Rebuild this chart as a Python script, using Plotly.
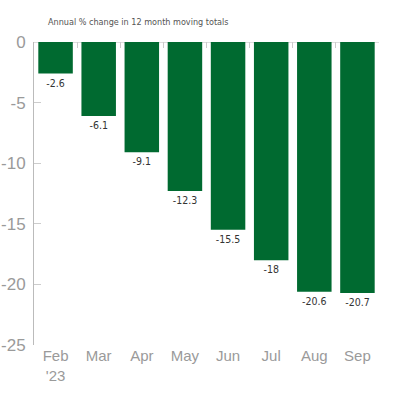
import plotly.graph_objects as go

# Data
months = ["Feb<br>'23", "Mar", "Apr", "May", "Jun", "Jul", "Aug", "Sep"]
values = [-2.6, -6.1, -9.1, -12.3, -15.5, -18, -20.6, -20.7]
y_ticks = [0, -5, -10, -15, -20, -25]

bar_green = "#006a30"
grey = "#9a9a9a"
narrow = "DejaVu Sans Condensed, Liberation Sans Narrow, sans-serif"

W = H = 400

fig = go.Figure()

fig.add_trace(go.Bar(
    x=list(range(len(months))),
    y=values,
    marker=dict(color=bar_green, line=dict(width=0)),
    text=[f"{v:g}" for v in values],
    textposition="outside",
    textfont=dict(family=narrow, size=10.5, color="#333333"),
    cliponaxis=False,
    showlegend=False,
))

# small tick marks between the bars along the zero line
fig.add_trace(go.Scatter(x=[0], y=[0], xaxis="x2", mode="markers",
                         marker=dict(opacity=0), showlegend=False, hoverinfo="skip"))

fig.update_layout(
    width=W, height=H,
    margin=dict(l=34, r=21, t=42, b=55),
    plot_bgcolor="white", paper_bgcolor="white",
    bargap=0.2,
    title=dict(text="Annual % change in 12 month moving totals",
               x=48 / W, xanchor="left", y=1 - 22 / H, yanchor="middle",
               font=dict(family=narrow, size=9, color="#555555")),
    xaxis=dict(
        tickmode="array", tickvals=list(range(len(months))), ticktext=months,
        range=[-0.5, len(months) - 0.5],
        showline=False, showgrid=False, zeroline=False, ticks="",
        automargin=False,
        tickfont=dict(family="Liberation Sans, Arial, sans-serif", size=15, color=grey),
    ),
    xaxis2=dict(
        overlaying="x", side="top", anchor="y",
        range=[-0.5, len(months) - 0.5],
        tickmode="array", tickvals=[i + 0.5 for i in range(len(months) - 1)],
        showticklabels=False, ticks="inside", ticklen=6, tickcolor="#cccccc",
        showline=False, showgrid=False, zeroline=False, automargin=False,
    ),
    yaxis=dict(
        range=[-25, 0],
        tickmode="array", tickvals=y_ticks, ticktext=[str(t) for t in y_ticks],
        showline=True, linecolor="#bbbbbb", linewidth=1,
        ticks="inside", ticklen=7, tickcolor="#cccccc",
        ticklabelstandoff=4,
        showgrid=False, zeroline=True, zerolinecolor="#dddddd", zerolinewidth=1,
        automargin=False,
        tickfont=dict(family="Liberation Sans, Arial, sans-serif", size=17, color=grey),
    ),
)

# drop the browser's default body margin so the figure fills the window
fig.write_html("out.html", config={"displayModeBar": False},
               post_script="document.body.style.margin='0';")
